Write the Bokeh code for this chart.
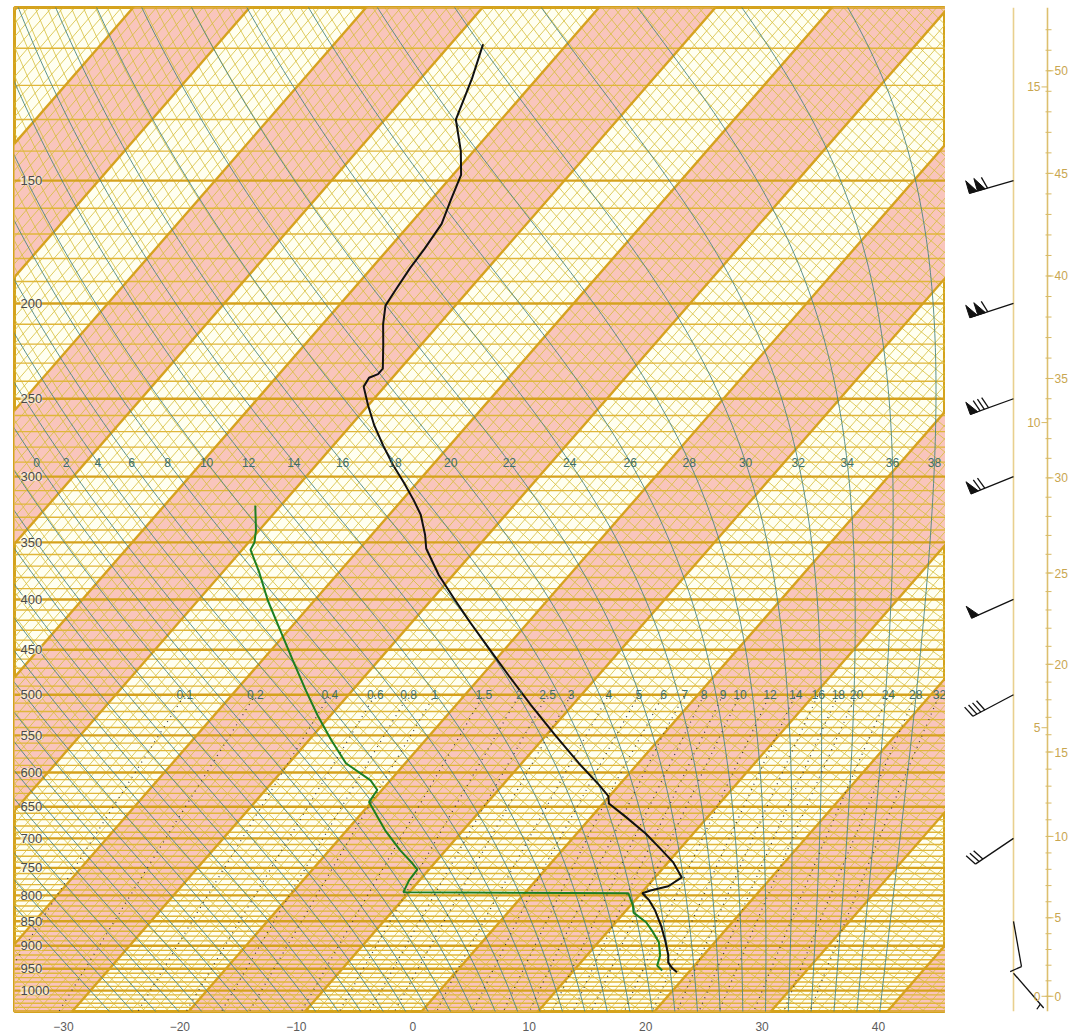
import numpy as np
from bokeh.plotting import figure
from bokeh.layouts import row
from bokeh.models import Range1d, FixedTicker, ColumnDataSource, LabelSet
from bokeh.core.properties import value
from bokeh.embed import file_html
from bokeh.resources import INLINE

# ---------------- data ----------------
temp_p = [109, 118, 130, 140, 148, 157, 166, 176, 184, 194, 201, 210, 220, 233, 236,
          238, 243, 254, 266, 279, 292, 304, 317, 328, 344, 355, 378, 401, 422, 448,
          478, 512, 550, 587, 618, 634, 645, 666, 692, 717, 740, 767, 783, 791, 796,
          809, 829, 858, 889, 921, 936, 949, 958]
temp_t = [-67.2, -65.6, -63.9, -61.1, -59.3, -58.3, -57.3, -56.9, -56.7, -56.3, -56.0,
          -54.8, -53.3, -51.5, -51.5, -52.0, -51.8, -50.0, -48.0, -45.7, -43.4, -41.2,
          -39.0, -37.3, -35.4, -34.3, -31.2, -27.9, -25.0, -21.5, -17.7, -13.6, -9.2,
          -5.1, -1.7, -0.1, 0.5, 3.0, 5.9, 8.3, 10.4, 12.3, 11.8, 10.6, 10.1, 11.2,
          12.5, 14.1, 15.6, 17.0, 17.5, 18.3, 19.0]
dewp_p = [321, 340, 350, 356, 375, 401, 430, 461, 495, 525, 556, 587, 611, 625, 643,
          687, 720, 742, 753, 772, 794, 796, 819, 833, 852, 873, 893, 921, 943, 954]
dewp_t = [-52.2, -50.3, -49.5, -49.3, -46.9, -44.0, -40.7, -37.4, -34.0, -31.1, -28.1,
          -25.1, -21.7, -20.4, -20.2, -16.7, -13.9, -11.9, -11.0, -10.9, -10.5, 8.9,
          10.2, 10.8, 12.6, 14.0, 15.2, 16.3, 16.8, 17.6]

wind_p = [150, 200, 250, 300, 400, 500, 700, 850, 960]
wind_dir = [254, 252, 250, 248, 246, 242, 236, 170, 139]
wind_spd = [44, 44, 32, 28, 20, 16, 12, 4, 2]      # m/s: flag 20, barb 4, half 2

x_ticks = [-30, -20, -10, 0, 10, 20, 30, 40]
p_labels = [150, 200, 250, 300, 350, 400, 450, 500, 550, 600, 650, 700, 750, 800,
            850, 900, 950, 1000]
mixr_vals = [0.1, 0.2, 0.4, 0.6, 0.8, 1, 1.5, 2, 2.5, 3, 4, 5, 6, 7, 8, 9, 10, 12,
             14, 16, 18, 20, 24, 28, 32]
mixr_text = ["0.1", "0.2", "0.4", "0.6", "0.8", "1", "1.5", "2", "2.5", "3", "4", "5",
             "6", "7", "8", "9", "10", "12", "14", "16", "18", "20", "24", "28", "32"]
thw_labels = list(range(0, 40, 2))
thw_lines = list(range(-30, 40, 2))
km_ticks = [0, 5, 10, 15]
kft_ticks = list(range(0, 51, 5))
kft_minor = list(range(0, 53))

# ---------------- geometry ----------------
P_BOT, P_TOP = 1050.0, 100.0
SKEW = 32.0
P_REF = 1075.0
X0, X1 = -34.2, 45.75
FRAME_W, FRAME_H = 931, 1004
K = FRAME_H / np.log(P_BOT / P_TOP)

def skx(t, p):
    return np.asarray(t, float) + SKEW * np.log(P_REF / np.asarray(p, float))

Rd, Cp, Lv, EPS = 287.04, 1005.7, 2.501e6, 0.622

def es_w(tc):
    return 6.112 * np.exp(17.67 * tc / (tc + 243.5))

def moist_rate(tk, pr):
    e = es_w(tk - 273.15)
    rs = EPS * e / (pr - e)
    return (Rd * tk + Lv * rs) / (Cp + Lv * Lv * rs * EPS / (Rd * tk * tk))

def integrate(t0k, levels):
    out = [t0k.copy()]
    t = t0k.copy()
    for i in range(len(levels) - 1):
        p0, p1 = levels[i], levels[i + 1]
        h = np.log(p1 / p0)
        pm = p0 * np.exp(0.5 * h)
        k1 = moist_rate(t, p0)
        k2 = moist_rate(t + 0.5 * h * k1, pm)
        k3 = moist_rate(t + 0.5 * h * k2, pm)
        k4 = moist_rate(t + h * k3, p1)
        t = t + h * (k1 + 2 * k2 + 2 * k3 + k4) / 6.0
        out.append(t.copy())
    return np.array(out)

def dew_from_e(e):
    a = np.log(e / 6.112)
    tw = 243.5 * a / (17.67 - a)
    ti = 272.62 * a / (22.46 - a)
    return np.where(ti < 0, ti, tw)

def std_p(z):
    z = np.asarray(z, float)
    ptr = 1013.25 * np.clip(1 - 2.25577e-5 * z, 1e-6, None) ** 5.25588
    pst = 226.32 * np.exp(-(z - 11000.0) / 6341.62)
    return np.where(z <= 11000.0, ptr, pst)

# ---------------- main skew-T figure ----------------
p = figure(x_range=Range1d(X0, X1), y_range=Range1d(P_BOT, P_TOP), y_axis_type="log",
           frame_width=FRAME_W, frame_height=FRAME_H,
           min_border_left=14, min_border_right=0, min_border_top=7, min_border_bottom=20,
           output_backend="svg", toolbar_location=None,
           background_fill_color="#FFFFF0", border_fill_color="white")
p.yaxis.visible = False
p.grid.visible = False
p.outline_line_color = "#D4A21C"
p.outline_line_width = 3
p.xaxis.ticker = FixedTicker(ticks=x_ticks)
p.xaxis.axis_line_color = None
p.xaxis.major_tick_line_color = None
p.xaxis.minor_tick_line_color = None
p.xaxis.major_label_standoff = 4
p.xaxis.major_label_text_font_size = "12px"
p.xaxis.major_label_text_font = "Liberation Sans"
p.xaxis.major_label_text_color = "#5C5C5C"

PB, PT = 1100.0, 90.0
# pink bands between isotherms
bx, by = [], []
for t0 in range(-120, 50, 20):
    bx.append([skx(t0, PB), skx(t0 + 10, PB), skx(t0 + 10, PT), skx(t0, PT)])
    by.append([PB, PB, PT, PT])
p.patches(bx, by, fill_color="#F9C5BC", line_color=None)

# thin isotherms every 1 C
tt = np.arange(-130, 52, 1)
p.segment(x0=skx(tt, PB), y0=np.full(tt.size, PB), x1=skx(tt, PT), y1=np.full(tt.size, PT),
          line_color="#D6BE3C", line_width=0.85, line_alpha=0.95)

# thin dry adiabats every 2 K
lev = np.exp(np.linspace(np.log(PB), np.log(PT), 60))
dxs, dys = [], []
for th in range(220, 520, 2):
    tc = th * (lev / 1000.0) ** 0.2857 - 273.15
    dxs.append(skx(tc, lev))
    dys.append(lev)
p.multi_line(dxs, dys, line_color="#D6BE3C", line_width=0.85, line_alpha=0.95)

# isobars
thin_p = [v for v in range(100, 1051, 10) if v % 50]
thick_p = list(range(100, 1051, 50))
p.segment(x0=np.full(len(thin_p), X0 - 5), y0=thin_p, x1=np.full(len(thin_p), X1 + 5),
          y1=thin_p, line_color="#E0B63A", line_width=1.4)
p.segment(x0=np.full(len(thick_p), X0 - 5), y0=thick_p, x1=np.full(len(thick_p), X1 + 5),
          y1=thick_p, line_color="#D6A21E", line_width=2.4)

# thick isotherms every 10 C
tk10 = np.arange(-130, 60, 10)
p.segment(x0=skx(tk10, PB), y0=np.full(tk10.size, PB), x1=skx(tk10, PT),
          y1=np.full(tk10.size, PT), line_color="#D6A21E", line_width=2.4)

# moist adiabats
up = np.exp(np.linspace(np.log(1000.0), np.log(PT), 220))
dn = np.exp(np.linspace(np.log(1000.0), np.log(PB), 12))
t0 = np.array(thw_lines, float) + 273.15
tu = integrate(t0, up)
td = integrate(t0, dn)
mxs, mys = [], []
for j in range(len(thw_lines)):
    pl = np.concatenate([dn[::-1], up[1:]])
    tl = np.concatenate([td[::-1, j], tu[1:, j]]) - 273.15
    mxs.append(skx(tl, pl))
    mys.append(pl)
p.multi_line(mxs, mys, line_color="#4A8582", line_width=1.0, line_alpha=0.9)

# moist adiabat labels at ~290 hPa
lab_p = 290.0
lx = []
for v in thw_labels:
    j = thw_lines.index(v)
    tl = np.interp(np.log(lab_p), np.log(up[::-1]), tu[::-1, j]) - 273.15
    lx.append(float(skx(tl, lab_p)))
src_thw = ColumnDataSource(dict(x=lx, y=[lab_p] * len(lx), t=[str(v) for v in thw_labels]))
p.add_layout(LabelSet(x="x", y="y", text="t", source=src_thw, text_align="center",
                      text_baseline="middle", text_font=value("Liberation Sans"),
                      text_font_size="12px", text_color="#3F6F6A"))

# mixing ratio lines (dotted) and labels at 500 hPa
mlev = np.exp(np.linspace(np.log(PB), np.log(500.0), 40))
wxs, wys, wlx = [], [], []
for w in mixr_vals:
    e = mlev * w / (622.0 + w)
    wxs.append(skx(dew_from_e(e), mlev))
    wys.append(mlev)
    e5 = 500.0 * w / (622.0 + w)
    wlx.append(float(skx(dew_from_e(e5), 500.0)))
p.multi_line(wxs, wys, line_color="#3A3A3A", line_width=1.2, line_dash="1 5")
src_w = ColumnDataSource(dict(x=wlx, y=[500.0] * len(wlx), t=mixr_text))
p.add_layout(LabelSet(x="x", y="y", text="t", source=src_w, text_align="center",
                      text_baseline="middle", text_font=value("Liberation Sans"),
                      text_font_size="12px", text_color="#3F6F6A"))

# pressure labels inside frame
src_p = ColumnDataSource(dict(x=[X0] * len(p_labels), y=p_labels, t=[str(v) for v in p_labels]))
p.add_layout(LabelSet(x="x", y="y", text="t", source=src_p, x_offset=6, text_align="left",
                      text_baseline="middle", text_font=value("Liberation Sans"),
                      text_font_size="13px", text_color="#4A4A4A",
                      background_fill_color="#FFFFF0", background_fill_alpha=0.6))

# soundings
p.line(skx(dewp_t, dewp_p), dewp_p, line_color="#1C7F22", line_width=2)
p.line(skx(temp_t, temp_p), temp_p, line_color="#111111", line_width=2)

# ---------------- right panel: heights and wind barbs ----------------
p2 = figure(x_range=Range1d(0, 130), y_range=Range1d(P_BOT, P_TOP), y_axis_type="log",
            frame_width=130, frame_height=FRAME_H,
            min_border_left=0, min_border_right=0, min_border_top=7, min_border_bottom=20,
            output_backend="svg", toolbar_location=None, outline_line_color=None,
            background_fill_color="white", border_fill_color="white")
p2.axis.visible = False
p2.grid.visible = False

BASE_X, AX_X = 68.0, 102.0
p2.segment(x0=[BASE_X, AX_X], y0=[P_BOT, P_BOT], x1=[BASE_X, AX_X], y1=[P_TOP, P_TOP],
           line_color=["#E9D08E", "#DCBF6E"], line_width=1.6)

km_p = std_p(np.array(km_ticks) * 1000.0)
kft_p = std_p(np.array(kft_ticks) * 304.8)
kmin_p = std_p(np.array(kft_minor) * 304.8)
p2.segment(x0=np.full(len(kmin_p), AX_X - 2), y0=kmin_p, x1=np.full(len(kmin_p), AX_X + 4),
           y1=kmin_p, line_color="#D8BA66", line_width=1)
p2.segment(x0=np.full(len(kft_p), AX_X), y0=kft_p, x1=np.full(len(kft_p), AX_X + 6),
           y1=kft_p, line_color="#D8BA66", line_width=1)
p2.segment(x0=np.full(len(km_p), AX_X - 6), y0=km_p, x1=np.full(len(km_p), AX_X),
           y1=km_p, line_color="#D8BA66", line_width=1)
src_km = ColumnDataSource(dict(x=[AX_X - 7] * len(km_ticks), y=km_p, t=[str(v) for v in km_ticks]))
p2.add_layout(LabelSet(x="x", y="y", text="t", source=src_km, text_align="right",
                       text_baseline="middle", text_font=value("Liberation Sans"),
                       text_font_size="12px", text_color="#C9A650"))
src_kft = ColumnDataSource(dict(x=[AX_X + 7] * len(kft_ticks), y=kft_p, t=[str(v) for v in kft_ticks]))
p2.add_layout(LabelSet(x="x", y="y", text="t", source=src_kft, text_align="left",
                       text_baseline="middle", text_font=value("Liberation Sans"),
                       text_font_size="12px", text_color="#C9A650"))

def to_p(p0, dy):
    return p0 * np.exp(-dy / K)

sx, sy, fx, fy = [], [], [], []
for pb, d, s in zip(wind_p, wind_dir, wind_spd):
    a = np.radians(d)
    ux, uy = np.sin(a), np.cos(a)
    nx, ny = uy, -ux
    L = 46.0
    tx, ty = L * ux, L * uy
    sx.append([BASE_X, BASE_X + tx]); sy.append([pb, to_p(pb, ty)])
    nflag = s // 20
    rem = s - 20 * nflag
    nfull = rem // 4
    nhalf = 1 if rem % 4 >= 2 else 0
    pos = 0.0

    def pt(v):
        return tx - v * ux, ty - v * uy
    for i in range(nflag):
        ax_, ay_ = pt(pos)
        bx_, by_ = pt(pos + 8)
        cx_, cy_ = ax_ + 13 * nx, ay_ + 13 * ny
        fx.append([BASE_X + ax_, BASE_X + bx_, BASE_X + cx_])
        fy.append([to_p(pb, ay_), to_p(pb, by_), to_p(pb, cy_)])
        pos += 8.5
    if nflag and (nfull or nhalf):
        pos += 2
    if nflag == 0 and nfull == 0 and nhalf:
        pos = 5
    for i in range(nfull):
        ax_, ay_ = pt(pos)
        ex, ey = ax_ + 12 * nx + 3 * ux, ay_ + 12 * ny + 3 * uy
        sx.append([BASE_X + ax_, BASE_X + ex]); sy.append([to_p(pb, ay_), to_p(pb, ey)])
        pos += 4.5
    if nhalf:
        ax_, ay_ = pt(pos)
        ex, ey = ax_ + 6 * nx + 1.5 * ux, ay_ + 6 * ny + 1.5 * uy
        sx.append([BASE_X + ax_, BASE_X + ex]); sy.append([to_p(pb, ay_), to_p(pb, ey)])

p2.multi_line(sx, sy, line_color="#111111", line_width=1.3)
p2.patches(fx, fy, fill_color="#111111", line_color="#111111", line_width=1)

layout = row(p, p2)
open("out.html", "w").write(file_html(layout, INLINE))
